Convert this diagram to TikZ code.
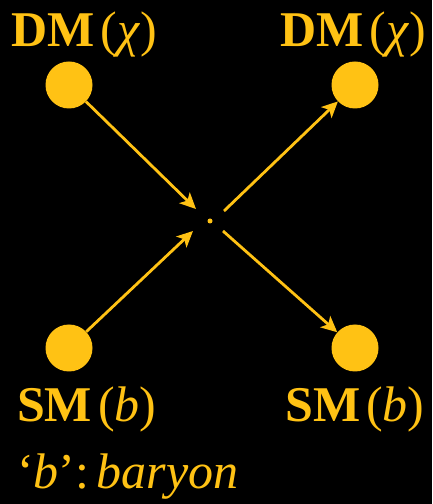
\documentclass[tikz,border=0pt]{standalone}
\usepackage{fontspec}
\setmainfont{Liberation Serif}
\usetikzlibrary{arrows.meta}
\definecolor{gold}{RGB}{255,194,20}
\begin{document}
\begin{tikzpicture}[x=1pt,y=1pt,
  ball/.style={circle,fill=gold,minimum size=47pt,inner sep=0pt},
  lbl/.style={anchor=base west,inner sep=0pt,text=gold,font=\fontsize{50}{55}\selectfont},
  arr/.style={draw=gold,line width=2.8pt,-{Stealth[length=16pt,width=15pt,inset=4pt]}}]
\useasboundingbox[fill=black] (0,0) rectangle (432,504);
\node[ball] (tl) at (69,419) {};
\node[ball] (tr) at (355,419) {};
\node[ball] (bl) at (69,156) {};
\node[ball] (br) at (355,156) {};
\node[circle,fill=gold,minimum size=5pt,inner sep=0pt] (c) at (210,283) {};
\coordinate (a1) at (196,295);
\coordinate (a2) at (193,273);
\coordinate (b1) at (224,293);
\coordinate (b2) at (223,273);
\draw[arr] (tl) -- (a1);
\draw[arr] (bl) -- (a2);
\draw[arr] (b1) -- (tr);
\draw[arr] (b2) -- (br);
\node[lbl] (t1) at (11,457) {\textbf{DM}\hspace{0.12em}(\textit{χ})};
\node[lbl] (t2) at (280,457) {\textbf{DM}\hspace{0.12em}(\textit{χ})};
\node[lbl] (s1) at (17,82) {\textbf{SM}\hspace{0.12em}(\textit{b})};
\node[lbl] (s2) at (285,82) {\textbf{SM}\hspace{0.12em}(\textit{b})};
\node[lbl] (note) at (17,16) {‘\textit{b}’:\hspace{0.15em}\textit{baryon}};
\end{tikzpicture}
\end{document}
